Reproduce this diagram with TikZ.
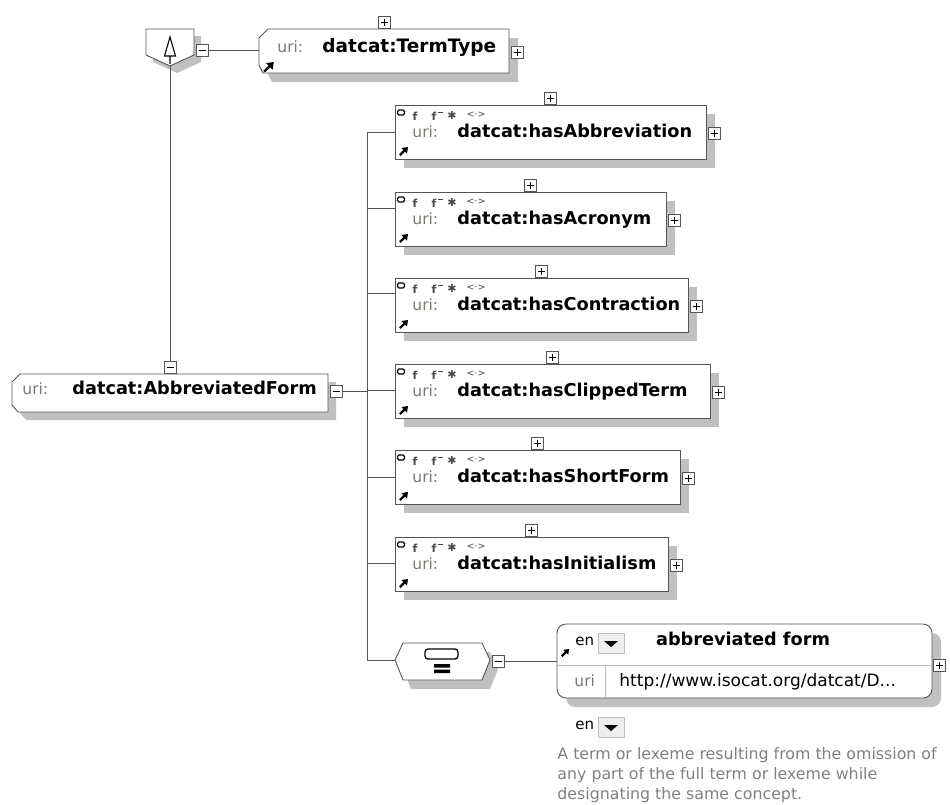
\documentclass[tikz,border=0pt]{standalone}
\usepackage{fontspec}
\setmainfont{DejaVu Sans}
\usetikzlibrary{shadows}
\definecolor{bordc}{RGB}{85,85,85}
\definecolor{shadc}{RGB}{192,192,192}
\definecolor{urigray}{RGB}{125,120,112}
\definecolor{icongray}{RGB}{75,75,75}
\definecolor{descc}{RGB}{128,128,128}
\definecolor{btnfill}{RGB}{238,238,238}
\definecolor{sepc}{RGB}{190,190,190}
\begin{document}
\begin{tikzpicture}[x=1pt,y=-1pt,line width=0.9pt,
  lbl/.style={font=\fontsize{17.7}{20}\selectfont\bfseries, inner sep=0, anchor=mid west},
  urilbl/.style={font=\fontsize{15.5}{18}\selectfont, text=urigray, inner sep=0, anchor=mid west},
  plain/.style={font=\fontsize{15}{18}\selectfont, inner sep=0, anchor=mid west},
  iconf/.style={font=\fontsize{11}{12}\selectfont\bfseries, text=icongray, inner sep=0},
  conn/.style={draw=bordc, line width=0.9pt},
  propbox/.style={draw=bordc, fill=white, anchor=north west, minimum height=54pt, inner sep=0, outer sep=0,
    drop shadow={shadow xshift=9pt, shadow yshift=-9pt, fill=shadc, opacity=1}},
  annbox/.style={draw=bordc, fill=white, anchor=north west, rounded corners=9pt, inner sep=0, outer sep=0,
    minimum width=375pt, minimum height=74pt,
    drop shadow={shadow xshift=9pt, shadow yshift=-9pt, fill=shadc, opacity=1}},
  plusbox/.pic={\draw[draw=bordc, fill=white, line width=0.8pt] (-6,-6) rectangle (6,6);
    \draw[black, line width=0.8pt] (-3.5,0) -- (3.5,0) (0,-3.5) -- (0,3.5);},
  minusbox/.pic={\draw[draw=bordc, fill=white, line width=0.8pt] (-6,-6) rectangle (6,6);
    \draw[black, line width=0.8pt] (-3.5,0) -- (3.5,0);},
  arrowicon/.pic={\fill[black] (9,0) -- (2.5,1) -- (8,6.5) -- cycle;
    \draw[black, line width=2.3pt] (1,8) -- (5.5,3.5);},
  dropbtn/.pic={\draw[draw=sepc, fill=btnfill, line width=0.8pt] (0,0) rectangle (26,20);
    \fill[black] (6,8) -- (20,8) -- (13,14) -- cycle;}
]
\useasboundingbox (0,0) rectangle (950,804);

% ---- pentagon (complex type / extension symbol)
\fill[shadc, shift={(7,7)}] (146,29) -- (194,29) -- (194,55) -- (170,66) -- (146,55) -- cycle;
\draw[bordc, fill=white] (146,29) -- (194,29) -- (194,55) -- (170,66) -- (146,55) -- cycle;
\coordinate (pentB) at (170,66);
\draw[black, line width=1.1pt] (170,37) -- (164.5,56) -- (175.5,56) -- cycle (170,56) -- (170,64);
\pic at (202,50) {minusbox};
\coordinate (pentM) at (208,50);

% ---- TermType
\fill[shadc, shift={(9,9)}] (268,29) -- (509,29) -- (509,73) -- (263,73) -- (259,65) -- (259,38) -- cycle;
\draw[bordc, fill=white] (268,29) -- (509,29) -- (509,73) -- (263,73) -- (259,65) -- (259,38) -- cycle;
\coordinate (termW) at (259,50);
\node[urilbl] (termuri) at (277,50) {uri:};
\node[lbl, font=\fontsize{18.5}{20}\selectfont\bfseries] (termlbl) at (322,50) {datcat:TermType};
\pic[scale=1.2] at (263,62) {arrowicon};
\pic at (384,22) {plusbox};
\pic at (517,52) {plusbox};
\draw[conn] (pentM) -- (termW);

% ---- AbbreviatedForm
\fill[shadc, shift={(8,8)}] (20,374) -- (328,374) -- (328,412) -- (18,412) -- (12,405) -- (12,382) -- cycle;
\draw[bordc, fill=white] (20,374) -- (328,374) -- (328,412) -- (18,412) -- (12,405) -- (12,382) -- cycle;
\node[urilbl] (afuri) at (22,392) {uri:};
\node[lbl] (aflbl) at (72,392) {datcat:AbbreviatedForm};
\pic at (170,367) {minusbox};
\coordinate (afT) at (170,361);
\pic at (336,391) {minusbox};
\coordinate (afE) at (342,391);
\draw[conn] (pentB) -- (afT);
\coordinate (trTop) at (367,132);
\coordinate (trBot) at (367,660);
\draw[conn] (trTop) -- (trBot);
\draw[conn] (afE) -- (367,391);

% ---- property boxes
\foreach \t/\r/\c/\lab [count=\i] in {105/706/132/hasAbbreviation, 192/666/208/hasAcronym, 278/688/293/hasContraction, 364/710/390/hasClippedTerm, 450/680/477/hasShortForm, 537/668/563/hasInitialism}{
  \pgfmathsetmacro\w{\r-395}
  \node[propbox, minimum width=\w pt] (p\i) at (395,\t) {};
  \draw[conn] (367,\c) -- (p\i.west |- 0,\c);
  \draw[black, line width=1.1pt, rounded corners=1.5pt] (397.5,\t+5) rectangle (404.5,\t+10);
  \node[iconf] at (415,\t+11) {f};
  \node[iconf] at (434,\t+11) {f};
  \draw[icongray, line width=1pt] (438,\t+7) -- (443,\t+7);
  \node[iconf, font=\fontsize{11}{12}\selectfont] at (452,\t+10) {✱};
  \node[iconf, font=\fontsize{9.5}{10}\selectfont, text=icongray] at (476,\t+10) {<·>};
  \node[urilbl] at (412,\t+30) {uri:};
  \node[lbl] at (457,\t+30) {datcat:\lab};
  \pic at (399,\t+42) {arrowicon};
  \pic at ({(395+\r)/2},\t-7) {plusbox};
  \pic at (\r+8,\t+28) {plusbox};
}

% ---- hexagon compositor
\fill[shadc, shift={(8,9)}] (395,660) -- (403,643) -- (482,643) -- (490,660) -- (482,680) -- (403,680) -- cycle;
\draw[bordc, fill=white] (395,660) -- (403,643) -- (482,643) -- (490,660) -- (482,680) -- (403,680) -- cycle;
\coordinate (hexW) at (395,660);
\draw[conn] (trBot) -- (hexW);
\draw[black, line width=1.3pt, rounded corners=3pt] (425,649) rectangle (458,659);
\fill[black] (434,664) rectangle (450,667.5) (434,669.5) rectangle (450,673);
\pic at (498,661) {minusbox};
\coordinate (hexM) at (504,661);

% ---- annotation box
\node[annbox] (ann) at (557,624) {};
\draw[conn] (hexM) -- (ann.west |- hexM);
\draw[sepc, line width=0.9pt] (557,665) -- (932,665);
\draw[sepc, line width=0.9pt] (605,665) -- (605,698);
\pic[scale=0.9] at (561,649) {arrowicon};
\node[plain] (en1) at (575,643) {en};
\pic at (598,633) {dropbtn};
\node[lbl, anchor=mid] (annlbl) at (743,643) {abbreviated form};
\node[urilbl] (annuri) at (574,684) {uri};
\node[plain, font=\fontsize{17}{18}\selectfont] (annurl) at (619,684) {http://www.isocat.org/datcat/D...};
\pic at (939.5,665) {plusbox};

% ---- documentation
\node[plain] (en2) at (575,727) {en};
\pic at (598,717) {dropbtn};
\node[plain, text=descc, font=\fontsize{15.8}{18}\selectfont] (d1) at (557,757) {A term or lexeme resulting from the omission of};
\node[plain, text=descc, font=\fontsize{15.8}{18}\selectfont] (d2) at (557,777) {any part of the full term or lexeme while};
\node[plain, text=descc, font=\fontsize{15.8}{18}\selectfont] (d3) at (557,797) {designating the same concept.};
\end{tikzpicture}
\end{document}
